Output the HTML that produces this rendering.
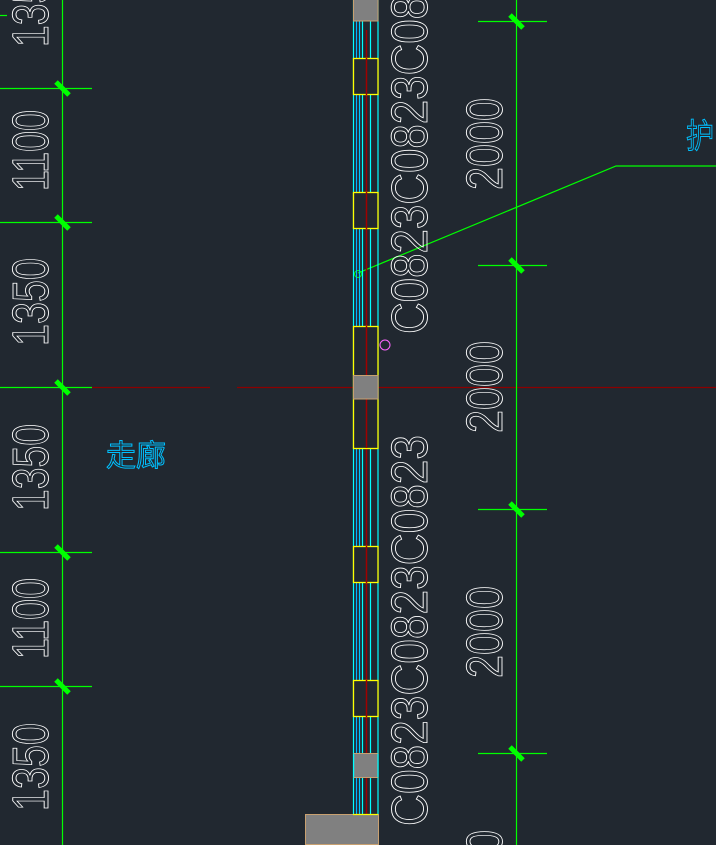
<!DOCTYPE html>
<html><head><meta charset="utf-8"><style>
html,body{margin:0;padding:0;background:#212830;width:716px;height:845px;overflow:hidden;}
svg{display:block;overflow:hidden}
.t{font-family:"Liberation Sans",sans-serif;font-size:51px;fill:none;stroke:#fff;stroke-width:0.9}
</style></head><body>
<svg width="716" height="845" viewBox="0 0 716 845" xmlns="http://www.w3.org/2000/svg">
<rect width="716" height="845" fill="#212830"/>
<g stroke="#8b0000" stroke-width="1.2">
<line x1="92" y1="387.5" x2="210" y2="387.5"/>
<line x1="237" y1="387.5" x2="262" y2="387.5"/>
<line x1="262" y1="387.5" x2="716" y2="387.5"/>
</g>
<g stroke="#00ff00" stroke-width="1.2">
<line x1="62.5" y1="0" x2="62.5" y2="845"/>
<line x1="0" y1="88.5" x2="92" y2="88.5"/>
<line x1="0" y1="222.5" x2="92" y2="222.5"/>
<line x1="0" y1="387.5" x2="92" y2="387.5"/>
<line x1="0" y1="552.5" x2="92" y2="552.5"/>
<line x1="0" y1="686.5" x2="92" y2="686.5"/>
<line x1="0" y1="15.5" x2="7" y2="15.5"/>
<line x1="516.5" y1="0" x2="516.5" y2="845"/>
<line x1="478" y1="21.5" x2="547" y2="21.5"/>
<line x1="478" y1="265.5" x2="547" y2="265.5"/>
<line x1="478" y1="509.5" x2="547" y2="509.5"/>
<line x1="478" y1="753.5" x2="547" y2="753.5"/>
</g>
<g stroke="#00ff00" stroke-width="5">
<line x1="56" y1="82" x2="69" y2="95"/>
<line x1="56" y1="216" x2="69" y2="229"/>
<line x1="56" y1="381" x2="69" y2="394"/>
<line x1="56" y1="546" x2="69" y2="559"/>
<line x1="56" y1="680" x2="69" y2="693"/>
<line x1="510" y1="15" x2="523" y2="28"/>
<line x1="510" y1="259" x2="523" y2="272"/>
<line x1="510" y1="503" x2="523" y2="516"/>
<line x1="510" y1="747" x2="523" y2="760"/>
</g>
<polyline points="358,273 616,166 716,166" fill="none" stroke="#00ff00" stroke-width="1.2"/>
<circle cx="358" cy="274" r="3.5" fill="none" stroke="#00ff00" stroke-width="1"/>
<circle cx="385" cy="345" r="5" fill="none" stroke="#ff66ff" stroke-width="1"/>
<g stroke-width="1.2">
<line x1="353.5" y1="0" x2="353.5" y2="814" stroke="#00ffff"/>
<line x1="356.5" y1="0" x2="356.5" y2="814" stroke="#00b4ff"/>
<line x1="359.5" y1="0" x2="359.5" y2="814" stroke="#00c8ff"/>
<line x1="362.5" y1="0" x2="362.5" y2="814" stroke="#00ffff"/>
<line x1="370.5" y1="0" x2="370.5" y2="814" stroke="#00ffff"/>
<line x1="378" y1="0" x2="378" y2="814" stroke="#00ffff"/>
<line x1="366.5" y1="30" x2="366.5" y2="814" stroke="#a00000" stroke-width="1.5"/>
</g>
<g fill="#212830" stroke="#ffff00" stroke-width="1.3">
<rect x="353.5" y="58.5" width="24.5" height="36"/>
<rect x="353.5" y="192.5" width="24.5" height="36"/>
<rect x="353.5" y="326.5" width="24.5" height="122"/>
<rect x="353.5" y="546.5" width="24.5" height="36"/>
<rect x="353.5" y="680.5" width="24.5" height="36"/>
</g>
<g stroke="#a00000" stroke-width="1.5">
<line x1="366.5" y1="58" x2="366.5" y2="95"/>
<line x1="366.5" y1="192" x2="366.5" y2="229"/>
<line x1="366.5" y1="326" x2="366.5" y2="448"/>
<line x1="366.5" y1="546" x2="366.5" y2="583"/>
<line x1="366.5" y1="680" x2="366.5" y2="717"/>
</g>
<g fill="#808080" stroke="#c8a070" stroke-width="1">
<rect x="353.5" y="-2" width="24.5" height="23"/>
<rect x="353.5" y="375.5" width="24.5" height="23.5"/>
<rect x="353.5" y="753.5" width="24.5" height="24"/>
<rect x="305.5" y="814.5" width="73" height="30"/>
</g>
<line x1="353" y1="814.5" x2="378" y2="814.5" stroke="#ffff00" stroke-width="1.3"/>
<rect x="353" y="753.5" width="1.2" height="24" fill="#00ffff"/>
<rect x="377.4" y="753.5" width="1.2" height="24" fill="#00ffff"/>
<g class="t">
<text transform="translate(48,47) rotate(-90)" textLength="87" lengthAdjust="spacingAndGlyphs">1350</text>
<text transform="translate(48,191) rotate(-90)" textLength="81" lengthAdjust="spacingAndGlyphs">1100</text>
<text transform="translate(48,346) rotate(-90)" textLength="88" lengthAdjust="spacingAndGlyphs">1350</text>
<text transform="translate(48,511) rotate(-90)" textLength="87" lengthAdjust="spacingAndGlyphs">1350</text>
<text transform="translate(48,659) rotate(-90)" textLength="81" lengthAdjust="spacingAndGlyphs">1100</text>
<text transform="translate(48,811) rotate(-90)" textLength="88" lengthAdjust="spacingAndGlyphs">1350</text>
<text transform="translate(427,334) rotate(-90)" textLength="339" lengthAdjust="spacingAndGlyphs">C0823C0823C08</text>
<text transform="translate(427,826) rotate(-90)" textLength="391" lengthAdjust="spacingAndGlyphs">C0823C0823C0823</text>
<text transform="translate(502,190) rotate(-90)" textLength="92" lengthAdjust="spacingAndGlyphs">2000</text>
<text transform="translate(502,433) rotate(-90)" textLength="92" lengthAdjust="spacingAndGlyphs">2000</text>
<text transform="translate(502,678) rotate(-90)" textLength="92" lengthAdjust="spacingAndGlyphs">2000</text>
</g>
<svg x="460" y="800" width="50" height="45" overflow="hidden">
<text class="t" transform="translate(42,76) rotate(-90)" textLength="46" lengthAdjust="spacingAndGlyphs">00</text>
</svg>
<text x="106" y="466" font-family="'Liberation Sans','Noto Sans CJK SC',sans-serif" font-size="30" fill="none" stroke="#00c0ff" stroke-width="1" textLength="60" lengthAdjust="spacingAndGlyphs">走廊</text>
<text x="686" y="148" font-family="'Liberation Sans','Noto Sans CJK SC',sans-serif" font-size="34" fill="none" stroke="#00c0ff" stroke-width="1" textLength="28" lengthAdjust="spacingAndGlyphs">护</text>
</svg>
</body></html>
